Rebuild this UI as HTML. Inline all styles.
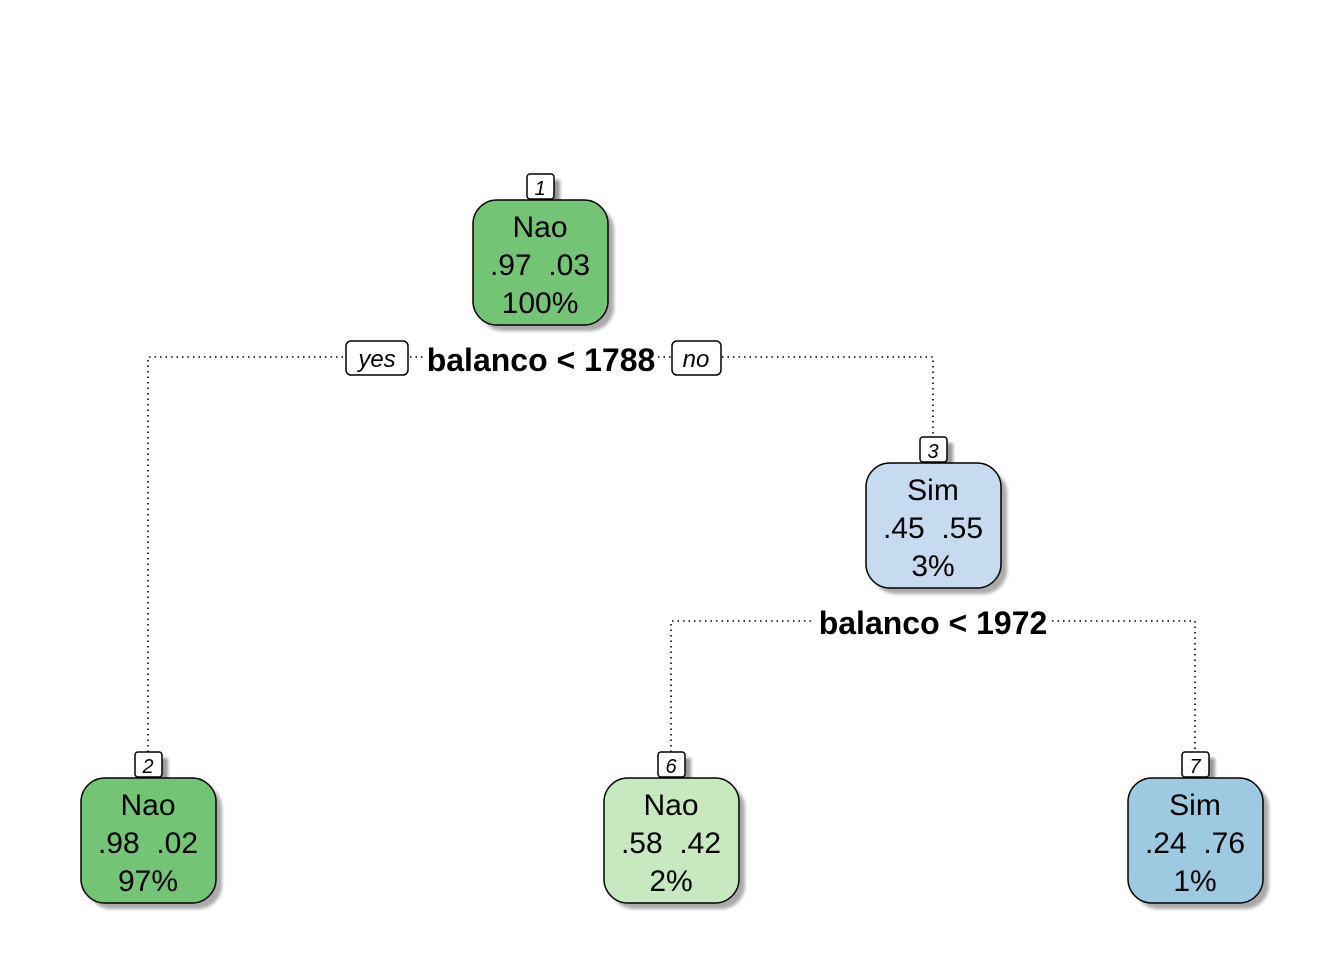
<!DOCTYPE html>
<html><head><meta charset="utf-8"><style>
html,body{margin:0;padding:0;background:#fff;}
svg{display:block;}
text{font-family:"Liberation Sans",sans-serif;}
</style></head><body>
<svg width="1344" height="960" viewBox="0 0 1344 960" xmlns="http://www.w3.org/2000/svg">
<defs>
<filter id="sh" x="-20%" y="-20%" width="150%" height="150%"><feGaussianBlur stdDeviation="1.5"/></filter>
</defs>
<g fill="none" stroke="#000" stroke-width="1.6" stroke-dasharray="1.5,4">
<path d="M148 752 V357 H346"/>
<path d="M410 357 H424"/>
<path d="M658 357 H671"/>
<path d="M722 357 H933 V437"/>
<path d="M671 752 V621 H815"/>
<path d="M1052 621 H1195 V752"/>
</g>
<rect x="346" y="341" width="62" height="34" rx="5" fill="#fff" stroke="#000" stroke-width="1.5"/>
<text x="377" y="367" font-size="24" font-style="italic" text-anchor="middle">yes</text>
<rect x="672" y="341" width="49" height="34" rx="5" fill="#fff" stroke="#000" stroke-width="1.5"/>
<text x="696" y="367" font-size="24" font-style="italic" text-anchor="middle">no</text>
<text x="541" y="371" font-size="32" font-weight="bold" text-anchor="middle">balanco &lt; 1788</text>
<text x="933" y="634" font-size="32" font-weight="bold" text-anchor="middle">balanco &lt; 1972</text>

<g transform="translate(540,174)">
<rect x="-7" y="6" width="27" height="25" fill="#999" filter="url(#sh)"/>
<rect x="-13" y="0" width="27" height="25" rx="3" fill="#fff" stroke="#000" stroke-width="1.5"/>
<text x="0" y="21" font-size="20" font-style="italic" text-anchor="middle">1</text>
<rect x="-61" y="32" width="135" height="125" rx="24" fill="#aaa" filter="url(#sh)"/>
<rect x="-67" y="26" width="135" height="125" rx="24" fill="#74C476" stroke="#000" stroke-width="1.5"/>
<text x="0" y="63" font-size="30" text-anchor="middle">Nao</text>
<text x="0" y="101" font-size="30" text-anchor="middle" xml:space="preserve">.97  .03</text>
<text x="0" y="139" font-size="30" text-anchor="middle">100%</text>
</g>
<g transform="translate(933,437)">
<rect x="-7" y="6" width="27" height="25" fill="#999" filter="url(#sh)"/>
<rect x="-13" y="0" width="27" height="25" rx="3" fill="#fff" stroke="#000" stroke-width="1.5"/>
<text x="0" y="21" font-size="20" font-style="italic" text-anchor="middle">3</text>
<rect x="-61" y="32" width="135" height="125" rx="24" fill="#aaa" filter="url(#sh)"/>
<rect x="-67" y="26" width="135" height="125" rx="24" fill="#C6DBEF" stroke="#000" stroke-width="1.5"/>
<text x="0" y="63" font-size="30" text-anchor="middle">Sim</text>
<text x="0" y="101" font-size="30" text-anchor="middle" xml:space="preserve">.45  .55</text>
<text x="0" y="139" font-size="30" text-anchor="middle">3%</text>
</g>
<g transform="translate(148,752)">
<rect x="-7" y="6" width="27" height="25" fill="#999" filter="url(#sh)"/>
<rect x="-13" y="0" width="27" height="25" rx="3" fill="#fff" stroke="#000" stroke-width="1.5"/>
<text x="0" y="21" font-size="20" font-style="italic" text-anchor="middle">2</text>
<rect x="-61" y="32" width="135" height="125" rx="24" fill="#aaa" filter="url(#sh)"/>
<rect x="-67" y="26" width="135" height="125" rx="24" fill="#74C476" stroke="#000" stroke-width="1.5"/>
<text x="0" y="63" font-size="30" text-anchor="middle">Nao</text>
<text x="0" y="101" font-size="30" text-anchor="middle" xml:space="preserve">.98  .02</text>
<text x="0" y="139" font-size="30" text-anchor="middle">97%</text>
</g>
<g transform="translate(671,752)">
<rect x="-7" y="6" width="27" height="25" fill="#999" filter="url(#sh)"/>
<rect x="-13" y="0" width="27" height="25" rx="3" fill="#fff" stroke="#000" stroke-width="1.5"/>
<text x="0" y="21" font-size="20" font-style="italic" text-anchor="middle">6</text>
<rect x="-61" y="32" width="135" height="125" rx="24" fill="#aaa" filter="url(#sh)"/>
<rect x="-67" y="26" width="135" height="125" rx="24" fill="#C7E9C0" stroke="#000" stroke-width="1.5"/>
<text x="0" y="63" font-size="30" text-anchor="middle">Nao</text>
<text x="0" y="101" font-size="30" text-anchor="middle" xml:space="preserve">.58  .42</text>
<text x="0" y="139" font-size="30" text-anchor="middle">2%</text>
</g>
<g transform="translate(1195,752)">
<rect x="-7" y="6" width="27" height="25" fill="#999" filter="url(#sh)"/>
<rect x="-13" y="0" width="27" height="25" rx="3" fill="#fff" stroke="#000" stroke-width="1.5"/>
<text x="0" y="21" font-size="20" font-style="italic" text-anchor="middle">7</text>
<rect x="-61" y="32" width="135" height="125" rx="24" fill="#aaa" filter="url(#sh)"/>
<rect x="-67" y="26" width="135" height="125" rx="24" fill="#9ECAE1" stroke="#000" stroke-width="1.5"/>
<text x="0" y="63" font-size="30" text-anchor="middle">Sim</text>
<text x="0" y="101" font-size="30" text-anchor="middle" xml:space="preserve">.24  .76</text>
<text x="0" y="139" font-size="30" text-anchor="middle">1%</text>
</g>
</svg>
</body></html>
